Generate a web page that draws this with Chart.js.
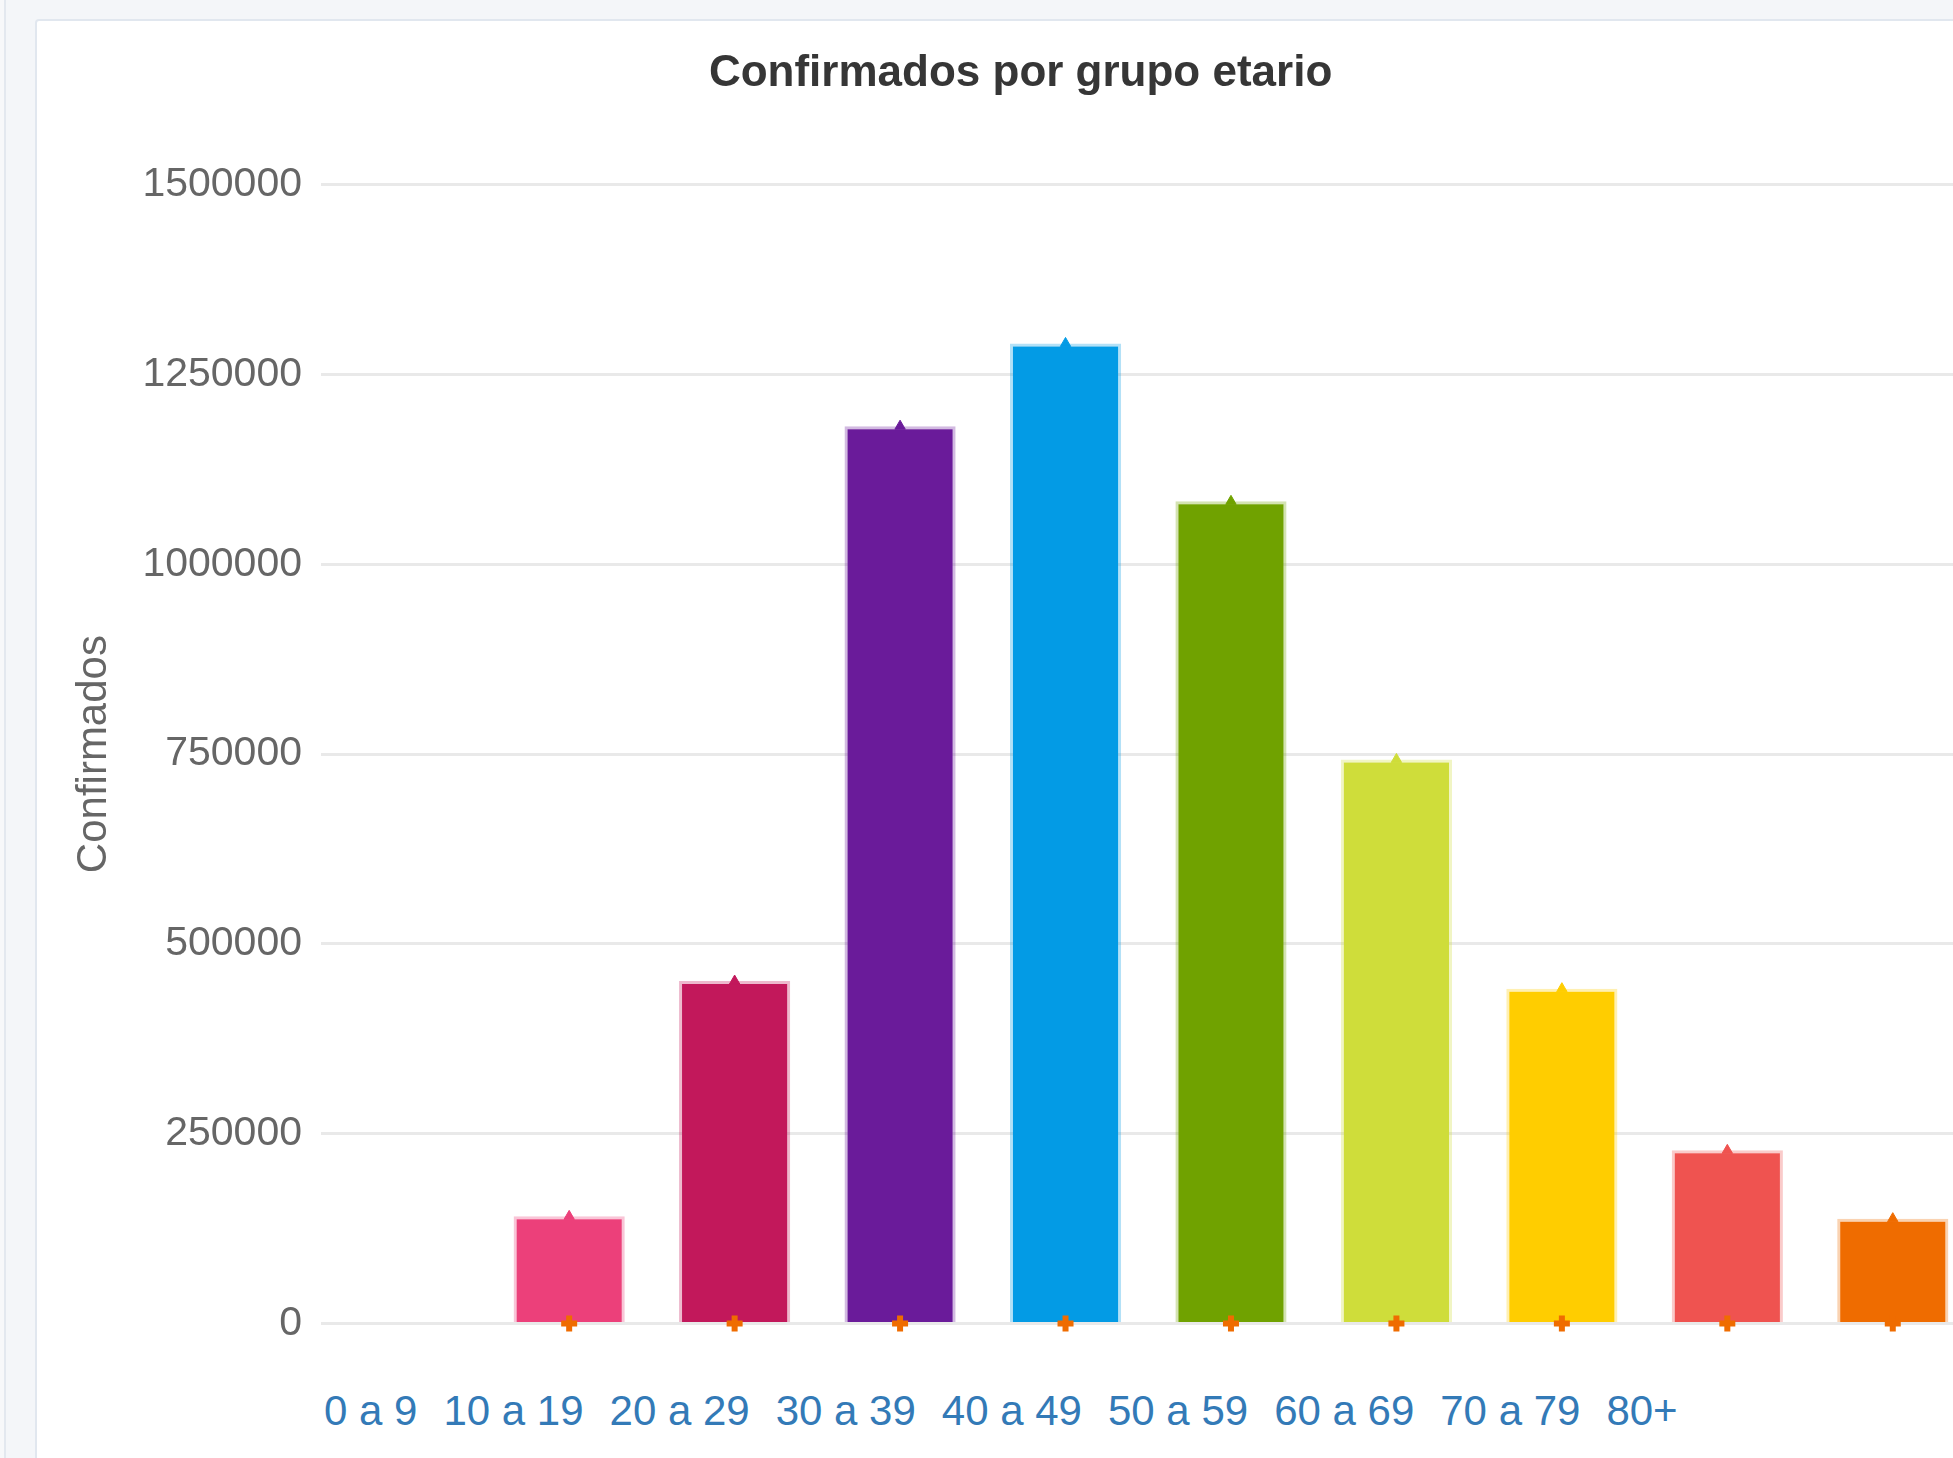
<!DOCTYPE html>
<html>
<head>
<meta charset="utf-8">
<script src="https://cdn.jsdelivr.net/npm/chart.js@4.4.1/dist/chart.umd.min.js"></script>
<style>
  html, body { margin: 0; padding: 0; width: 1953px; height: 1458px; overflow: hidden; background: #f4f6f9; }
  #leftStrip { position: absolute; left: 0; top: 0; width: 4px; height: 1458px; border-right: 2px solid #e3e8ef; background: #f7f8fa; }
  #card { position: absolute; left: 35px; top: 19px; width: 2000px; height: 1500px; background: #ffffff; border: 2px solid #e1e7ef; border-radius: 4px; box-sizing: border-box; }
  #wrap { position: absolute; left: 37px; top: 21px; width: 1968px; height: 1346px; }
  #labels { position: absolute; left: 324px; top: 1387px; white-space: nowrap; font-family: "Liberation Sans", Arial, sans-serif; font-size: 42px; color: #337ab7; }
  #labels span { margin-right: 26px; }
</style>
</head>
<body>
<div id="leftStrip"></div>
<div id="card"></div>
<div id="wrap"><canvas id="c"></canvas></div>
<div id="labels"></div>
<script>
// ---- data ----
const categories = ['0 a 9', '10 a 19', '20 a 29', '30 a 39', '40 a 49', '50 a 59', '60 a 69', '70 a 79', '80+'];
const confirmados = [141000, 451000, 1182000, 1291000, 1083000, 743000, 441000, 228000, 138000];
const baseline = [0, 0, 0, 0, 0, 0, 0, 0, 0];
const yTickValues = [0, 250000, 500000, 750000, 1000000, 1250000, 1500000];
const barColors = ['#EC407A', '#C2185B', '#6A1B9A', '#039BE5', '#70A200', '#CFDD3A', '#FFCD00', '#EF5350', '#EF6C00'];
const chartTitle = 'Confirmados por grupo etario';
const yTitle = 'Confirmados';

function rgba(hex, a) {
  const n = parseInt(hex.slice(1), 16);
  return 'rgba(' + ((n >> 16) & 255) + ',' + ((n >> 8) & 255) + ',' + (n & 255) + ',' + a + ')';
}

// category row below the chart
const lab = document.getElementById('labels');
categories.forEach(c => { const s = document.createElement('span'); s.textContent = c; lab.appendChild(s); });

// chart has an empty leading slot, as in the reference
const slots = [''].concat(categories);
const barData = [null].concat(confirmados);
const baseData = [null].concat(baseline);
const colors = ['rgba(0,0,0,0)'].concat(barColors);
const borderCols = ['rgba(0,0,0,0)'].concat(barColors.map(c => rgba(c, 0.3)));

const tickFont = { family: '"Liberation Sans", Arial, sans-serif', size: 41 };
const yTitleFont = { family: '"Liberation Sans", Arial, sans-serif', size: 42 };

new Chart(document.getElementById('c'), {
  type: 'bar',
  data: {
    labels: slots,
    datasets: [
      {
        type: 'line', label: 'top', data: barData, showLine: false, order: 0, clip: false,
        pointStyle: 'triangle', pointRadius: 6, pointBackgroundColor: colors, pointBorderColor: colors, pointBorderWidth: 1
      },
      {
        type: 'line', label: 'base', data: baseData, showLine: false, order: 1, clip: false,
        pointStyle: 'cross', pointRadius: 8, pointBorderColor: '#EF6C00', pointBackgroundColor: '#EF6C00', pointBorderWidth: 6
      },
      {
        type: 'bar', label: yTitle, data: barData, order: 2,
        backgroundColor: colors, borderColor: borderCols, borderWidth: 3,
        categoryPercentage: 0.8, barPercentage: 0.84
      }
    ]
  },
  options: {
    responsive: true, maintainAspectRatio: false, animation: false,
    layout: { padding: { left: 28.7, right: 29.5, top: 16.5, bottom: 32 } },
    plugins: {
      legend: { display: false },
      tooltip: { enabled: false },
      title: {
        display: true, text: chartTitle, color: '#363636',
        font: { family: '"Liberation Sans", Arial, sans-serif', size: 44, weight: 'bold' },
        padding: { top: 10, bottom: 84.5 }
      }
    },
    scales: {
      x: {
        offset: true,
        grid: { display: false, drawTicks: false },
        border: { display: false },
        ticks: { display: false }
      },
      y: {
        min: 0, max: 1500000,
        afterBuildTicks: (s) => { s.ticks = yTickValues.map(v => ({ value: v })); },
        afterFit: (s) => { s.width = 255.3; },
        grid: { color: '#e9e9e9', lineWidth: 3, drawTicks: false },
        border: { display: false },
        ticks: { color: '#666666', font: tickFont, padding: 19, callback: (v) => String(v) },
        title: { display: true, text: yTitle, color: '#666666', font: yTitleFont }
      }
    }
  }
});
</script>
</body>
</html>
